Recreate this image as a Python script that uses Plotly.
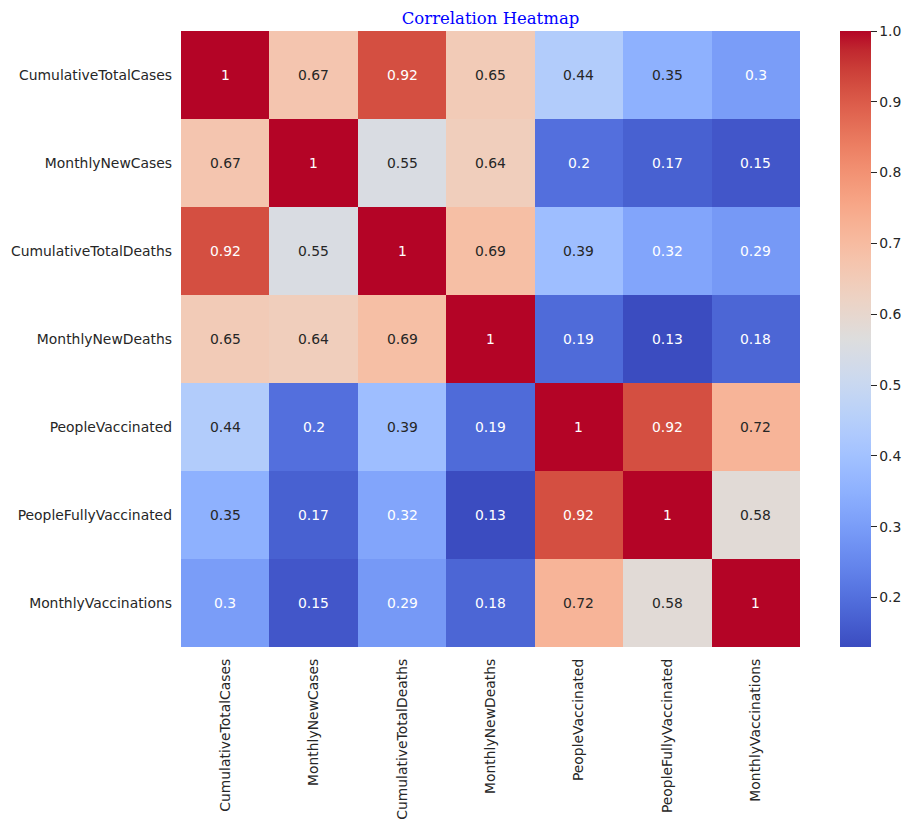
import plotly.graph_objects as go

labels = ["CumulativeTotalCases", "MonthlyNewCases", "CumulativeTotalDeaths",
          "MonthlyNewDeaths", "PeopleVaccinated", "PeopleFullyVaccinated",
          "MonthlyVaccinations"]

row_ctc = [1.00, 0.67, 0.92, 0.65, 0.44, 0.35, 0.30]
row_mnc = [0.67, 1.00, 0.55, 0.64, 0.20, 0.17, 0.15]
row_ctd = [0.92, 0.55, 1.00, 0.69, 0.39, 0.32, 0.29]
row_mnd = [0.65, 0.64, 0.69, 1.00, 0.19, 0.13, 0.18]
row_pv = [0.44, 0.20, 0.39, 0.19, 1.00, 0.92, 0.72]
row_pfv = [0.35, 0.17, 0.32, 0.13, 0.92, 1.00, 0.58]
row_mv = [0.30, 0.15, 0.29, 0.18, 0.72, 0.58, 1.00]
matrix = [row_ctc, row_mnc, row_ctd, row_mnd, row_pv, row_pfv, row_mv]

colorbar_ticks = [0.2, 0.3, 0.4, 0.5, 0.6, 0.7, 0.8, 0.9, 1.0]

# matplotlib "coolwarm" (Moreland) control points
cw = [(59, 76, 192), (68, 90, 204), (77, 104, 215), (87, 117, 225), (98, 130, 234),
      (108, 142, 241), (119, 154, 247), (130, 165, 251), (141, 176, 254), (152, 185, 255),
      (163, 194, 255), (174, 201, 253), (184, 208, 249), (194, 213, 244), (204, 217, 238),
      (213, 219, 230), (221, 221, 221), (229, 216, 209), (236, 211, 197), (241, 204, 185),
      (245, 196, 173), (247, 187, 160), (247, 177, 148), (247, 166, 135), (244, 154, 123),
      (241, 141, 111), (236, 127, 99), (229, 112, 88), (222, 96, 77), (213, 80, 66),
      (203, 62, 56), (192, 40, 47), (180, 4, 38)]
n = len(cw) - 1
colorscale = [[i / n, "rgb(%d,%d,%d)" % c] for i, c in enumerate(cw)]

zmin = min(min(r) for r in matrix)
zmax = max(max(r) for r in matrix)


def cmap(t):
    t = min(max(t, 0.0), 1.0) * n
    i = min(int(t), n - 1)
    f = t - i
    a, b = cw[i], cw[i + 1]
    return [(a[k] + (b[k] - a[k]) * f) / 255.0 for k in range(3)]


def lum(rgb):
    lin = [c / 12.92 if c <= 0.03928 else ((c + 0.055) / 1.055) ** 2.4 for c in rgb]
    return 0.2126 * lin[0] + 0.7152 * lin[1] + 0.0722 * lin[2]


FONT = "DejaVu Sans"
FS = 13.9
TXT = "#262626"

fig = go.Figure(go.Heatmap(
    z=matrix, x=labels, y=labels, colorscale=colorscale, zmin=zmin, zmax=zmax,
    showscale=True, hoverongaps=False,
    colorbar=dict(
        thickness=31, lenmode="pixels", len=616, x=1.0646, xanchor="left",
        xpad=0, ypad=0, y=0.5, yanchor="middle", outlinewidth=0,
        tickvals=colorbar_ticks, ticktext=["%.1f" % v for v in colorbar_ticks],
        ticks="outside", ticklen=6, tickcolor=TXT, tickwidth=1,
        tickfont=dict(family=FONT, size=FS, color=TXT),
    ),
))

annotations = []
for i, row in enumerate(matrix):
    for j, v in enumerate(row):
        col = cmap((v - zmin) / (zmax - zmin))
        tc = TXT if lum(col) > 0.408 else "white"
        annotations.append(dict(
            x=labels[j], y=labels[i], xref="x", yref="y", text=format(v, ".2g"),
            showarrow=False, font=dict(family=FONT, size=FS, color=tc)))

fig.update_layout(
    width=912, height=828,
    margin=dict(l=173, r=120, t=23, b=189, autoexpand=False),
    paper_bgcolor="white", plot_bgcolor="white",
    annotations=annotations,
    title=dict(text="Correlation Heatmap", x=0.5, xref="paper", xanchor="center",
               y=1 - 10 / 828, yref="container", yanchor="middle",
               font=dict(family="DejaVu Serif", size=16.5, color="blue")),
)
fig.update_xaxes(tickangle=-90, showgrid=False, zeroline=False, ticks="",
                 ticklabelstandoff=8,
                 tickfont=dict(family=FONT, size=FS, color=TXT),
                 showline=False)
fig.update_yaxes(autorange="reversed", showgrid=False, zeroline=False, ticks="",
                 ticklabelstandoff=8,
                 tickfont=dict(family=FONT, size=FS, color=TXT),
                 showline=False)

fig.write_html("out.html")
